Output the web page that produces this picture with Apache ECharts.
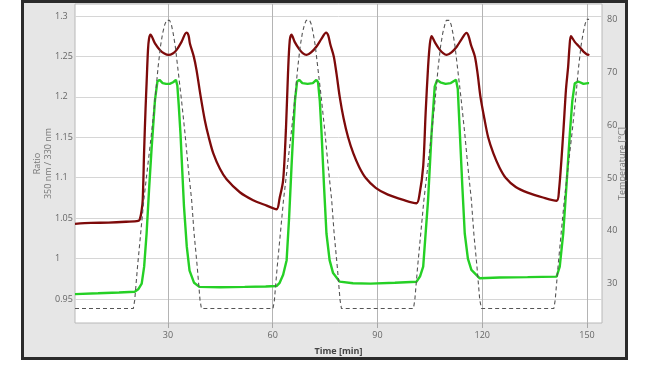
<!DOCTYPE html>
<html>
<head>
<meta charset="utf-8">
<script src="https://cdn.jsdelivr.net/npm/echarts@6/dist/echarts.min.js"></script>
<style>
html,body{margin:0;padding:0;background:#fff;}
#chart{width:650px;height:370px;}
</style>
</head>
<body>
<div id="chart"></div>
<script>
// ---- Data ----
const xTicks = [30, 60, 90, 120, 150];
const ratioTicks = [0.95, 1, 1.05, 1.1, 1.15, 1.2, 1.25, 1.3];
const tempTicks = [30, 40, 50, 60, 70, 80];

// Dark red ratio trace
const redT = [3.4, 8, 13, 18, 21.5, 22.0, 22.5, 22.8, 23.2, 23.6, 23.9, 24.3, 24.6, 25.0, 26.3, 27.7, 29.0, 30.2, 31.4, 32.5, 33.9, 35.3,
  35.9, 36.3, 37.4, 38.2, 39.4, 40.6, 41.7, 43.0, 44.9, 46.8, 50.6, 54.4, 58.3, 61.1,
  62.0, 63.0, 63.8, 64.4, 64.9, 65.4, 66.3, 67.6, 68.6, 69.7, 71.0, 72.5, 74.0, 75.3,
  75.9, 76.5, 77.5, 78.3, 79.2, 80.3, 81.6, 83.1, 84.8, 86.6, 89.5, 93.0, 97.4, 101.2,
  102.0, 103.1, 103.8, 104.5, 105.0, 105.5, 106.5, 107.7, 108.8, 109.8, 111.2, 112.7, 114.2, 115.5,
  116.1, 116.8, 117.9, 118.7, 119.5, 120.6, 121.7, 123.2, 124.9, 126.7, 129.6, 133.0, 137.4, 141.3,
  142.0, 143.2, 144.0, 144.6, 145.0, 145.4, 146.5, 147.8, 149.0, 150.3, 150.6];
const redV = [1.043, 1.044, 1.0445, 1.0455, 1.0465, 1.049, 1.060, 1.073, 1.134, 1.185, 1.217, 1.258, 1.272, 1.277, 1.266, 1.258, 1.2535, 1.2518, 1.2535, 1.258, 1.268, 1.2793,
  1.276, 1.266, 1.250, 1.233, 1.200, 1.1705, 1.150, 1.130, 1.111, 1.098, 1.082, 1.0722, 1.0655, 1.061,
  1.075, 1.097, 1.160, 1.230, 1.270, 1.277, 1.268, 1.259, 1.254, 1.2518, 1.255, 1.262, 1.272, 1.2795,
  1.276, 1.265, 1.250, 1.228, 1.200, 1.1735, 1.150, 1.130, 1.113, 1.100, 1.0875, 1.079, 1.0725, 1.0684,
  1.078, 1.114, 1.180, 1.237, 1.265, 1.275, 1.267, 1.259, 1.254, 1.2518, 1.255, 1.262, 1.272, 1.279,
  1.275, 1.264, 1.250, 1.228, 1.200, 1.1735, 1.150, 1.130, 1.113, 1.100, 1.0885, 1.0815, 1.0755, 1.0715,
  1.085, 1.155, 1.210, 1.237, 1.262, 1.275, 1.268, 1.262, 1.256, 1.252, 1.253];

// Green ratio trace
const greenT = [3.4, 10, 16, 20.5, 21.5, 22.5, 23.2, 23.9, 24.6, 25.3, 26.3, 27.0, 27.6, 28.5, 29.5, 30.5, 31.5, 32.3, 32.7, 33.1, 33.6, 34.6, 35.4, 36.2, 37.5, 39.0, 45, 52, 58, 61.1,
  62.0, 63.0, 64.0, 64.7, 65.4, 66.0, 66.4, 67.0, 67.6, 68.5, 70.0, 71.5, 72.5, 73.0, 73.5, 74.0, 74.7, 75.4, 76.3, 77.3, 79.2, 83, 88, 95, 101.2,
  102.2, 103.1, 104.5, 105.5, 106.4, 107.1, 108.0, 109.5, 111.0, 112.5, 113.0, 113.6, 114.3, 115.0, 115.9, 116.9, 119.3, 125, 133, 141.3,
  142.2, 143.2, 144.2, 145.1, 145.8, 146.5, 147.5, 149.0, 150.3, 150.6];
const greenV = [0.956, 0.957, 0.958, 0.959, 0.962, 0.969, 0.990, 1.031, 1.085, 1.134, 1.196, 1.219, 1.221, 1.217, 1.216, 1.216, 1.218, 1.221, 1.214, 1.190, 1.155, 1.065, 1.015, 0.985, 0.970, 0.965, 0.9645, 0.965, 0.9655, 0.966,
  0.970, 0.980, 0.998, 1.050, 1.114, 1.165, 1.196, 1.219, 1.221, 1.217, 1.216, 1.217, 1.221, 1.218, 1.195, 1.155, 1.090, 1.031, 0.998, 0.982, 0.9714, 0.9695, 0.969, 0.970, 0.9714,
  0.978, 0.990, 1.0725, 1.155, 1.2126, 1.221, 1.218, 1.216, 1.217, 1.221, 1.210, 1.155, 1.090, 1.031, 1.000, 0.986, 0.9756, 0.9765, 0.977, 0.9776,
  0.990, 1.031, 1.095, 1.155, 1.195, 1.2167, 1.219, 1.216, 1.217, 1.217];

// Temperature (dashed, right axis)
const tempT = [3.4, 20.1, 20.5, 21.3, 22.2, 23.1, 24.2, 25.3, 26.3, 27.2, 27.9, 28.5, 29.1, 29.6, 30.0, 30.5, 31.0, 31.5, 32.1, 32.8, 33.9, 34.9, 35.8, 36.8, 37.5, 38.4, 39.2, 39.6,
  60.1, 60.5, 61.3, 62.2, 63.1, 64.2, 65.3, 66.3, 67.2, 67.9, 68.5, 69.1, 69.6, 70.1, 70.6, 71.1, 71.6, 72.2, 72.9, 74.0, 75.0, 75.9, 76.9, 77.6, 78.5, 79.3, 79.7,
  100.3, 100.7, 101.5, 102.4, 103.3, 104.4, 105.5, 106.5, 107.4, 108.1, 108.7, 109.3, 109.7, 110.1, 110.6, 111.1, 111.6, 112.2, 112.9, 114.0, 115.0, 115.9, 116.9, 117.6, 118.5, 119.3, 119.8,
  140.5, 140.9, 141.7, 142.6, 143.5, 144.6, 145.7, 146.7, 147.6, 148.3, 148.9, 149.5, 150.0, 150.6];
const tempV = [25.3, 25.3, 26.9, 33.2, 39.5, 45.8, 52.1, 58.4, 64.7, 71.0, 75.0, 77.4, 79.0, 79.8, 80.0, 79.8, 79.0, 77.4, 75.0, 71.0, 64.7, 58.4, 52.1, 45.8, 39.5, 33.2, 26.9, 25.3,
  25.3, 26.9, 33.2, 39.5, 45.8, 52.1, 58.4, 64.7, 71.0, 75.0, 77.4, 79.0, 79.8, 80.0, 79.8, 79.0, 77.4, 75.0, 71.0, 64.7, 58.4, 52.1, 45.8, 39.5, 33.2, 26.9, 25.3,
  25.3, 26.9, 33.2, 39.5, 45.8, 52.1, 58.4, 64.7, 71.0, 75.0, 77.4, 79.0, 79.8, 80.0, 79.8, 79.0, 77.4, 75.0, 71.0, 64.7, 58.4, 52.1, 45.8, 39.5, 33.2, 26.9, 25.3,
  25.3, 26.9, 33.2, 39.5, 45.8, 52.1, 58.4, 64.7, 71.0, 75.0, 77.4, 79.2, 80.0, 80.0];

const pairs = (xs, ys) => xs.map((x, i) => [x, ys[i]]);
const FONT = 'Open Sans';

const chart = echarts.init(document.getElementById('chart'), null, {renderer: 'canvas'});
chart.setOption({
  animation: false,
  backgroundColor: '#ffffff',
  graphic: [{
    type: 'rect', z: -10,
    shape: {x: 22.5, y: 1.5, width: 604, height: 357},
    style: {fill: '#e6e6e6', stroke: '#2b2b2b', lineWidth: 3}
  }],
  grid: {
    left: 75, right: 48, top: 4, bottom: 47,
    show: true, backgroundColor: '#ffffff', borderColor: '#b8b8b8', borderWidth: 1
  },
  xAxis: {
    type: 'value', min: 3.4, max: 154.3,
    name: 'Time [min]', nameLocation: 'middle', nameGap: 24, nameMoveOverlap: false,
    nameTextStyle: {fontFamily: FONT, fontSize: 9, fontWeight: 'bold', color: '#444'},
    axisLine: {show: false},
    axisTick: {show: true, length: 5, customValues: xTicks, lineStyle: {color: '#a8a8a8'}},
    axisLabel: {customValues: xTicks, fontFamily: FONT, fontSize: 9, color: '#666', margin: 8},
    splitLine: {show: true, lineStyle: {color: '#b4b4b4', width: 1}}
  },
  yAxis: [{
    type: 'value', min: 0.9203, max: 1.3148, position: 'left',
    name: 'Ratio\n350 nm / 330 nm', nameLocation: 'middle', nameRotate: 90, nameGap: 21, nameMoveOverlap: false,
    nameTextStyle: {fontFamily: FONT, fontSize: 9, color: '#777', lineHeight: 11, align: 'center'},
    axisLine: {show: false},
    axisTick: {show: false, customValues: ratioTicks},
    axisLabel: {customValues: ratioTicks, align: 'left', margin: 20, fontFamily: FONT, fontSize: 9, color: '#666',
      formatter: v => String(+(+v).toFixed(2))},
    splitLine: {show: true, lineStyle: {color: '#d6d6d6', width: 1}}
  }, {
    type: 'value', min: 22.57, max: 82.9, position: 'right',
    name: 'Temperature [°C]', nameLocation: 'middle', nameRotate: 90, nameGap: 15.5, nameMoveOverlap: false,
    nameTextStyle: {fontFamily: FONT, fontSize: 9, color: '#777'},
    axisLine: {show: false},
    axisTick: {show: false, customValues: tempTicks},
    axisLabel: {customValues: tempTicks, margin: 5, fontFamily: FONT, fontSize: 9, color: '#666'},
    splitLine: {show: false}
  }],
  series: [{
    type: 'line', name: 'red', yAxisIndex: 0, data: pairs(redT, redV),
    smooth: 0.3,
    showSymbol: false, symbol: 'none', lineStyle: {color: '#7d0a0a', width: 2.3}
  }, {
    type: 'line', name: 'green', yAxisIndex: 0, data: pairs(greenT, greenV),
    showSymbol: false, symbol: 'none', lineStyle: {color: '#25d025', width: 2.4}
  }, {
    type: 'line', name: 'temp', yAxisIndex: 1, data: pairs(tempT, tempV),
    showSymbol: false, symbol: 'none', lineStyle: {color: '#555555', width: 1.1, type: [4, 3]}
  }]
});
</script>
</body>
</html>
